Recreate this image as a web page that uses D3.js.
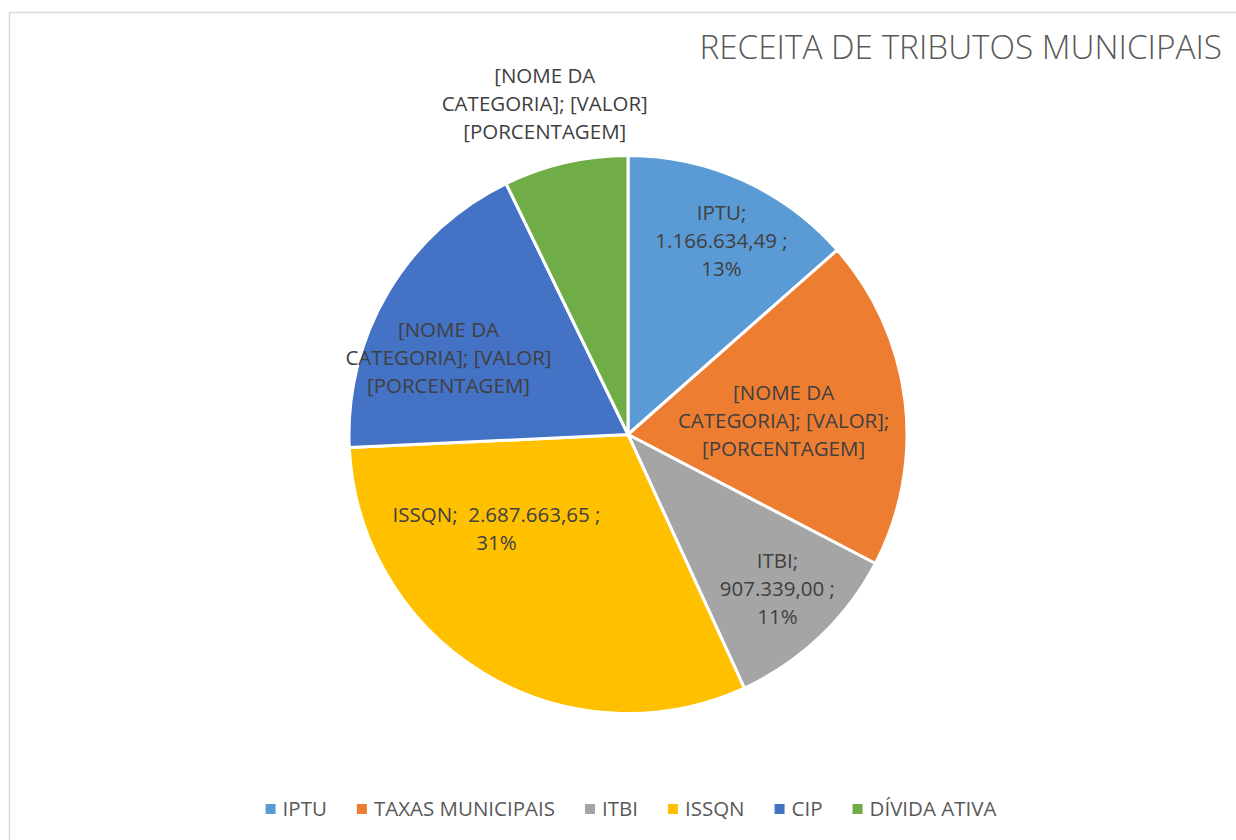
<!DOCTYPE html>
<html>
<head>
<meta charset="utf-8">
<script src="https://cdn.jsdelivr.net/npm/d3@7"></script>
<style>
  html, body { margin: 0; padding: 0; background: #fff; }
  svg { display: block; font-family: "Open Sans", "Noto Sans", sans-serif; }
</style>
</head>
<body>
<svg id="chart" width="1236" height="840"></svg>
<script>
// Chart data
const title = "RECEITA DE TRIBUTOS MUNICIPAIS";
const categories = ["IPTU", "TAXAS MUNICIPAIS", "ITBI", "ISSQN", "CIP", "DÍVIDA ATIVA"];
const values = [1166634.49, 1655000, 907339.00, 2687663.65, 1602700, 622100];
const colors = ["#5B9BD5", "#ED7D31", "#A5A5A5", "#FFC000", "#4472C4", "#70AD47"];
// Data label text as shown on the chart (placeholders kept as in the original)
const labelLines = [
    ["IPTU;", "1.166.634,49 ;", "13%"],
    ["[NOME DA", "CATEGORIA]; [VALOR];", "[PORCENTAGEM]"],
    ["ITBI;", "907.339,00 ;", "11%"],
    ["ISSQN;  2.687.663,65 ;", "31%"],
    ["[NOME DA", "CATEGORIA]; [VALOR]", "[PORCENTAGEM]"],
    ["[NOME DA", "CATEGORIA]; [VALOR]", "[PORCENTAGEM]"]
];

// Label placement (radius as fraction of pie radius, angle shift in degrees)
const labelPlacement = [
    { r: 0.77, shift: 1.5 },
    { r: 0.56, shift: 1.8 },
    { r: 0.77, shift: -0.5 },
    { r: 0.58, shift: 23 },
    { r: 0.70, shift: -7.5 },
    { r: 1.22, shift: -1.2 }
];

const width = 1236, height = 840;
const cx = 628, cy = 434.5, radius = 279;

const svg = d3.select("#chart");

// Chart area border (continues past the right and bottom edges)
svg.append("rect")
    .attr("x", 9.5).attr("y", 12.5)
    .attr("width", width + 20).attr("height", height + 20)
    .attr("fill", "#fff")
    .attr("stroke", "#d9d9d9")
    .attr("stroke-width", 1.5);

svg.append("text")
    .attr("x", 1222).attr("y", 59)
    .attr("text-anchor", "end")
    .attr("fill", "#595959")
    .attr("font-size", 33.3)
    .attr("font-weight", 300)
    .text(title);

const pieData = d3.pie()
    .sort(null)
    .value(d => d)(values);

const arc = d3.arc().innerRadius(0).outerRadius(radius);

const g = svg.append("g").attr("transform", `translate(${cx},${cy})`);

g.selectAll("path.slice")
    .data(pieData)
    .join("path")
    .attr("class", "slice")
    .attr("d", arc)
    .attr("fill", (d, i) => colors[i])
    .attr("stroke", "#fff")
    .attr("stroke-width", 3)
    .attr("stroke-linejoin", "round");

// Data labels
const lineH = 28;
const labels = g.selectAll("text.lbl")
    .data(pieData)
    .join("text")
    .attr("class", "lbl")
    .attr("text-anchor", "middle")
    .attr("fill", "#404040")
    .attr("font-size", 20.5)
    .attr("transform", (d, i) => {
        const p = labelPlacement[i];
        const a = (d.startAngle + d.endAngle) / 2 + p.shift * Math.PI / 180;
        const r = radius * p.r;
        return `translate(${r * Math.sin(a)},${-r * Math.cos(a)})`;
    });

labels.each(function(d, i) {
    const lines = labelLines[i];
    const t = d3.select(this);
    const y0 = -((lines.length - 1) * lineH) / 2 + 7;
    lines.forEach((ln, k) => {
        t.append("tspan")
            .attr("x", 0)
            .attr("y", y0 + k * lineH)
            .attr("xml:space", "preserve")
            .style("white-space", "pre")
            .text(ln);
    });
});

// Legend
const legend = svg.append("g");
const items = legend.selectAll("g.item")
    .data(categories)
    .join("g")
    .attr("class", "item");

items.append("rect")
    .attr("width", 10).attr("height", 10)
    .attr("y", -12)
    .attr("fill", (d, i) => colors[i]);

items.append("text")
    .attr("x", 17)
    .attr("fill", "#595959")
    .attr("font-size", 20.5)
    .text(d => d);

let xPos = 0;
items.each(function() {
    const w = d3.select(this).select("text").node().getComputedTextLength();
    d3.select(this).attr("transform", `translate(${xPos},0)`);
    xPos += 17 + w + 30;
});
const legendW = xPos - 30;
legend.attr("transform", `translate(${631 - legendW / 2},816)`);
</script>
</body>
</html>
